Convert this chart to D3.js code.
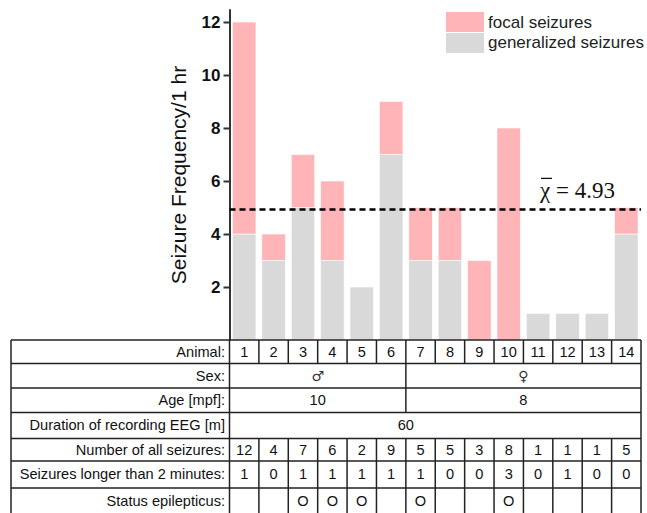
<!DOCTYPE html>
<html>
<head>
<meta charset="utf-8">
<script src="https://cdn.jsdelivr.net/npm/d3@7"></script>
<style>
  body { margin: 0; background: #fff; }
  svg { display: block; }
</style>
</head>
<body>
<svg width="647" height="513"></svg>
<script>
// chart data
var animals = [1, 2, 3, 4, 5, 6, 7, 8, 9, 10, 11, 12, 13, 14];
var generalized = [4, 3, 5, 3, 2, 7, 3, 3, 0, 0, 1, 1, 1, 4];
var focal = [8, 1, 2, 3, 0, 2, 2, 2, 3, 8, 0, 0, 0, 1];
var yTicks = [2, 4, 6, 8, 10, 12];

// table data
var allSeizures = [12, 4, 7, 6, 2, 9, 5, 5, 3, 8, 1, 1, 1, 5];
var longerThan2 = [1, 0, 1, 1, 1, 1, 1, 0, 0, 3, 0, 1, 0, 0];
var statusEpi = ["", "", "O", "O", "O", "", "O", "", "", "O", "", "", "", ""];
var sexGroups = [{label: "\u2642", from: 1, to: 6}, {label: "\u2640", from: 7, to: 14}];
var ageGroups = [{label: "10", from: 1, to: 6}, {label: "8", from: 7, to: 14}];
var durationLabel = "60";

var svg = d3.select("svg"),
    plotLeft = 229.5, plotRight = 641,
    plotTop = 8.75, plotBase = 340;

var data = animals.map(function(a, i) {
  return {animal: a, generalized: generalized[i], focal: focal[i]};
});

var x = d3.scaleBand()
    .domain(animals)
    .range([plotLeft, plotRight])
    .paddingInner(0.2)
    .paddingOuter(0.1);

var step = x.step();

var y = d3.scaleLinear()
    .domain([0, 12.5])
    .range([plotBase, plotTop]);

var color = d3.scaleOrdinal()
    .domain(["generalized", "focal"])
    .range(["#d9d9d9", "#ffb5b8"]);

var stack = d3.stack().keys(["generalized", "focal"]);

svg.append("g")
  .selectAll("g")
  .data(stack(data))
  .enter().append("g")
    .attr("fill", function(d) { return color(d.key); })
  .selectAll("rect")
  .data(function(d) { return d; })
  .enter().append("rect")
    .attr("x", function(d) { return x(d.data.animal); })
    .attr("y", function(d) { return y(d[1]); })
    .attr("width", x.bandwidth())
    .attr("height", function(d) { return y(d[0]) - y(d[1]); })
    .attr("stroke", "#fff")
    .attr("stroke-width", 0.6);

// y axis
var yAxis = svg.append("g")
    .attr("transform", "translate(" + plotLeft + ",0)")
    .call(d3.axisLeft(y).tickValues(yTicks).tickSize(6).tickSizeOuter(0).tickPadding(3));

yAxis.select(".domain").attr("stroke", "#333").attr("stroke-width", 2);
yAxis.selectAll(".tick line").attr("stroke", "#333").attr("stroke-width", 2);
yAxis.selectAll("text")
    .attr("font-family", "Liberation Sans, Arial, sans-serif")
    .attr("font-size", 17)
    .attr("font-weight", "bold")
    .attr("fill", "#111");

svg.append("text")
    .attr("transform", "translate(186," + 175 + ") rotate(-90)")
    .attr("text-anchor", "middle")
    .attr("font-family", "Liberation Sans, Arial, sans-serif")
    .attr("font-size", 21)
    .attr("fill", "#111")
    .text("Seizure Frequency/1 hr");

// mean line
var mean = d3.mean(allSeizures);
svg.append("line")
    .attr("x1", plotLeft)
    .attr("x2", plotRight)
    .attr("y1", y(mean))
    .attr("y2", y(mean))
    .attr("stroke", "#000")
    .attr("stroke-width", 2.5)
    .attr("stroke-dasharray", "6,4");

svg.append("text")
    .attr("x", 540)
    .attr("y", y(mean) - 11)
    .attr("font-family", "Liberation Serif, Times New Roman, serif")
    .attr("font-size", 23)
    .attr("fill", "#111")
    .text("\u03c7 = " + d3.format(".2f")(mean));

svg.append("line")
    .attr("x1", 541)
    .attr("x2", 552)
    .attr("y1", y(mean) - 31)
    .attr("y2", y(mean) - 31)
    .attr("stroke", "#111")
    .attr("stroke-width", 1.3);

// legend
var legend = svg.append("g")
    .attr("font-family", "Liberation Sans, Arial, sans-serif")
    .attr("font-size", 17)
    .attr("fill", "#222");

var legendItems = [{key: "focal", label: "focal seizures"}, {key: "generalized", label: "generalized seizures"}];

legendItems.forEach(function(d, i) {
  legend.append("rect")
      .attr("x", 446)
      .attr("y", 12 + i * 21)
      .attr("width", 38)
      .attr("height", 20)
      .attr("fill", color(d.key));
  legend.append("text")
      .attr("x", 488)
      .attr("y", 28 + i * 20)
      .text(d.label);
});

// table
var tableLeft = 11;
var rowLabels = ["Animal:", "Sex:", "Age [mpf]:", "Duration of recording EEG [m]",
                 "Number of all seizures:", "Seizures longer than 2 minutes:", "Status epilepticus:"];
var rowHeights = [23.5, 24.5, 24.5, 26, 22.5, 27, 30];
var rowTops = [plotBase];
rowHeights.forEach(function(h, i) { rowTops.push(rowTops[i] + h); });

var table = svg.append("g")
    .attr("font-family", "Liberation Sans, Arial, sans-serif")
    .attr("font-size", 14.6)
    .attr("fill", "#111");

var lineColor = "#222";

function hline(y0) {
  table.append("line")
      .attr("x1", tableLeft).attr("x2", plotRight)
      .attr("y1", y0).attr("y2", y0)
      .attr("stroke", lineColor).attr("stroke-width", 1.5);
}
function vline(x0, y0, y1) {
  table.append("line")
      .attr("x1", x0).attr("x2", x0)
      .attr("y1", y0).attr("y2", y1)
      .attr("stroke", lineColor).attr("stroke-width", 1.5);
}
function colLeft(a) { return x(a) - step * x.paddingInner() / 2; }
function colCenter(a) { return x(a) + x.bandwidth() / 2; }
function rowMid(r) { return rowTops[r] + Math.min(rowHeights[r], 25) / 2 + 5; }
function cellText(cx, row, txt) {
  return table.append("text")
      .attr("x", cx)
      .attr("y", rowMid(row))
      .attr("text-anchor", "middle")
      .text(txt);
}

rowTops.slice(0, 7).forEach(function(t) { hline(t); });
vline(tableLeft, plotBase, 513);
vline(plotLeft, plotBase, 513);
vline(plotRight, plotBase, 513);

rowLabels.forEach(function(l, i) {
  table.append("text")
      .attr("x", 225)
      .attr("y", rowMid(i))
      .attr("text-anchor", "end")
      .text(l);
});

// full column rows
[0, 4, 5, 6].forEach(function(r) {
  animals.slice(1).forEach(function(a) {
    vline(colLeft(a), rowTops[r], rowTops[r] + rowHeights[r]);
  });
});

animals.forEach(function(a, i) {
  cellText(colCenter(a), 0, a);
  cellText(colCenter(a), 4, allSeizures[i]);
  cellText(colCenter(a), 5, longerThan2[i]);
  if (statusEpi[i]) cellText(colCenter(a), 6, statusEpi[i]);
});

// grouped rows
[[1, sexGroups], [2, ageGroups]].forEach(function(g) {
  var r = g[0];
  g[1].forEach(function(grp, k) {
    var x0 = colLeft(grp.from), x1 = colLeft(grp.to) + step;
    if (k > 0) vline(x0, rowTops[r], rowTops[r] + rowHeights[r]);
    var t = cellText((x0 + x1) / 2, r, grp.label);
    if (r === 1) t.attr("font-family", "DejaVu Sans, sans-serif").attr("font-size", 14).attr("fill", "#333");
  });
});

cellText(colLeft(sexGroups[1].from), 3, durationLabel);
</script>
</body>
</html>
